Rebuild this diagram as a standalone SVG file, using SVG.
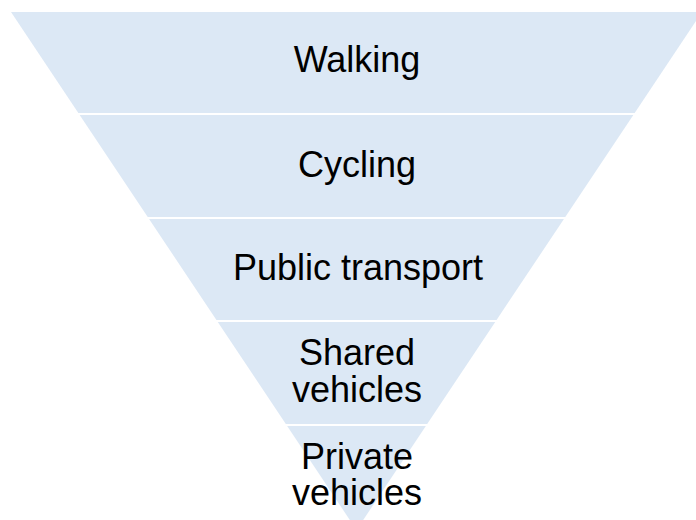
<svg xmlns="http://www.w3.org/2000/svg" width="696" height="520" viewBox="0 0 696 520">
<style>
.band{fill:#DCE8F5;stroke:none}
.sep{stroke:#FFFFFF;stroke-width:2}
.lbl{font-family:"Liberation Sans",Arial,sans-serif;font-size:36px;fill:#000000;text-anchor:middle}
</style>
<rect width="696" height="520" fill="#FFFFFF"/>
<g id="walking">
<polygon class="band" points="11,12 702,12 634,114 79,114"/>
<text class="lbl" x="357" y="72">Walking</text>
</g>
<g id="cycling">
<polygon class="band" points="79,114 634,114 564.6,218 148.4,218"/>
<text class="lbl" x="357" y="177">Cycling</text>
</g>
<g id="public-transport">
<polygon class="band" points="148.4,218 564.6,218 495.9,321 217.1,321"/>
<text class="lbl" x="358" y="280">Public transport</text>
</g>
<g id="shared-vehicles">
<polygon class="band" points="217.1,321 495.9,321 426.5,425 286.5,425"/>
<text class="lbl" x="357" y="365">Shared</text>
<text class="lbl" x="357" y="402">vehicles</text>
</g>
<g id="private-vehicles">
<polygon class="band" points="286.5,425 426.5,425 356.5,530"/>
<text class="lbl" x="357" y="469">Private</text>
<text class="lbl" x="357" y="505">vehicles</text>
</g>
<g id="connectors">
<line class="sep" x1="60" y1="114" x2="660" y2="114"/>
<line class="sep" x1="130" y1="218" x2="590" y2="218"/>
<line class="sep" x1="200" y1="321" x2="520" y2="321"/>
<line class="sep" x1="270" y1="425" x2="450" y2="425"/>
</g>
</svg>
